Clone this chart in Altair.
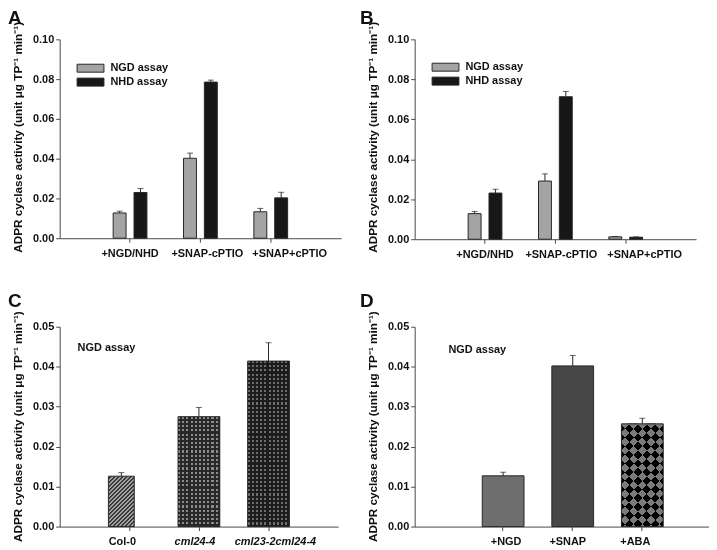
import math
import altair as alt
import pandas as pd

# ---------------- data ----------------
ab_categories = ["+NGD/NHD", "+SNAP-cPTIO", "+SNAP+cPTIO"]
assays = ["NGD assay", "NHD assay"]

a_ngd = [0.0127, 0.0402, 0.0133]
a_ngd_err = [0.0009, 0.0026, 0.0017]
a_nhd = [0.0230, 0.0785, 0.0203]
a_nhd_err = [0.0020, 0.0010, 0.0028]

b_ngd = [0.0128, 0.0291, 0.0012]
b_ngd_err = [0.0011, 0.0036, 0.0002]
b_nhd = [0.0231, 0.0713, 0.0010]
b_nhd_err = [0.0019, 0.0026, 0.0002]

c_categories = ["Col-0", "cml24-4", "cml23-2cml24-4"]
c_values = [0.0126, 0.0275, 0.0414]
c_err = [0.0009, 0.0023, 0.0046]

d_categories = ["+NGD", "+SNAP", "+ABA"]
d_values = [0.0127, 0.0402, 0.0257]
d_err = [0.0009, 0.0026, 0.0014]

y_ticks_ab = [0.0, 0.02, 0.04, 0.06, 0.08, 0.10]
y_ticks_cd = [0.0, 0.01, 0.02, 0.03, 0.04, 0.05]

YTITLE = "ADPR cyclase activity (unit \u03bcg TP\u207b\u00b9 min\u207b\u00b9)"

# ---------------- style ----------------
FONT = "Liberation Sans"
AX = "#4a4a4a"
TXT = "#111111"
BAR_STROKE = "#262626"
NGD_COL = "#a4a4a4"
NHD_COL = "#171717"
CLEAR = "rgba(0,0,0,0)"


def y_axis(vals, title_y):
    return alt.Axis(values=vals, format=".2f", tickSize=4, labelPadding=2, grid=False,
                    domainColor=AX, tickColor=AX, labelFont=FONT, labelFontSize=11,
                    labelFontWeight="bold", labelColor=TXT, title=YTITLE, titleFont=FONT,
                    titleFontSize=11.8, titleFontWeight="bold", titleColor=TXT, titleX=-36,
                    titleY=title_y, titleBaseline="bottom")


def x_axis(offsets, styles=None):
    conds = [{"test": f"datum.value === '{k}'", "value": v} for k, v in offsets.items()]
    kw = dict(labelAngle=0, tickSize=4, labelPadding=5, grid=False, domainColor=AX,
              tickColor=AX, labelFont=FONT, labelFontSize=11, labelFontWeight="bold",
              labelColor=TXT, title=None, labelOffset={"condition": conds, "value": 0})
    if styles:
        kw["labelFontStyle"] = {"condition": [{"test": f"datum.value === '{k}'", "value": v}
                                              for k, v in styles.items()], "value": "normal"}
    return alt.Axis(**kw)


def letter(ch, dx, dy):
    return alt.Chart(pd.DataFrame({"t": [ch]})).mark_text(
        align="left", baseline="top", font=FONT, fontSize=19, fontWeight="bold", color=TXT
    ).encode(text="t:N", x=alt.value(dx), y=alt.value(dy))


def note(txt, dx, dy):
    return alt.Chart(pd.DataFrame({"t": [txt]})).mark_text(
        align="left", baseline="middle", font=FONT, fontSize=11, fontWeight="bold", color=TXT
    ).encode(text="t:N", x=alt.value(dx), y=alt.value(dy))


# gradient based hatch patterns
def grad(c1, c2, frac, n, x1, y1, x2, y2):
    n = max(1, int(round(n)))
    stops = []
    for k in range(n):
        a, b, e = k / n, (k + frac) / n, (k + 1) / n
        stops += [(a, c1), (b, c1), (b, c2), (e, c2)]
    return alt.LinearGradient(gradient="linear",
                              stops=[alt.GradientStop(offset=min(1.0, round(o, 5)), color=c) for o, c in stops],
                              x1=x1, y1=y1, x2=x2, y2=y2)


def hstripes(c1, c2, frac, h, p):
    return grad(c1, c2, frac, h / p, 0, 0, 0, 1)


def vstripes(c1, c2, frac, w, p):
    return grad(c1, c2, frac, w / p, 0, 0, 1, 0)


def dstripes_up(c1, c2, frac, w, h, p):
    s = h / w
    n = (w * w + h * h) / (w * p * math.sqrt(2))
    return grad(c1, c2, frac, n, 0, 0, 1, s)


def dstripes_down(c1, c2, frac, w, h, p):
    s = h / w
    n = (w * w + h * h) / (w * p * math.sqrt(2))
    return grad(c1, c2, frac, n, 0, s, 1, 0)


# ---------------- grouped panels (A, B) ----------------
def panel_ab(ch, ngd, ngd_e, nhd, nhd_e, width, height, offs, ldx, ldy):
    df = pd.DataFrame({
        "cat": ab_categories * 2,
        "assay": [assays[0]] * 3 + [assays[1]] * 3,
        "v": ngd + nhd,
        "e": ngd_e + nhd_e,
    })
    df["top"] = df["v"] + df["e"]
    x = alt.X("cat:N", sort=ab_categories, title=None,
              scale=alt.Scale(paddingInner=0.52, paddingOuter=0.76), axis=x_axis(offs))
    xo = alt.XOffset("assay:N", sort=assays, scale=alt.Scale(paddingInner=0.38, paddingOuter=0))
    ysc = alt.Scale(domain=[0, 0.1], nice=False)
    yax = y_axis(y_ticks_ab, 98)
    base = alt.Chart(df)
    bars = base.mark_bar(stroke=BAR_STROKE, strokeWidth=1).encode(
        x=x, xOffset=xo,
        y=alt.Y("v:Q", scale=ysc, axis=yax, title=YTITLE),
        fill=alt.Fill("assay:N", scale=alt.Scale(domain=assays, range=[NGD_COL, NHD_COL]),
                      legend=alt.Legend(orient="none", legendX=ldx, legendY=ldy, title=None,
                                        symbolType="M-2.7,-0.8H2.7V0.8H-2.7Z", symbolSize=100,
                                        symbolStrokeColor=BAR_STROKE, symbolStrokeWidth=1,
                                        labelFont=FONT, labelFontSize=11, labelFontWeight="bold",
                                        labelColor=TXT, labelOffset=14.5, rowPadding=1,
                                        padding=0)))
    rules = base.mark_rule(color=BAR_STROKE, strokeWidth=1).encode(
        x=x, xOffset=xo, y=alt.Y("v:Q", scale=ysc, axis=yax, title=YTITLE), y2="top:Q")
    caps = base.mark_tick(orient="horizontal", size=6, thickness=1, color=BAR_STROKE).encode(
        x=x, xOffset=xo, y=alt.Y("top:Q", scale=ysc, axis=yax, title=YTITLE))
    return alt.layer(bars, rules, caps, letter(ch, -52 if ch == "A" else -55, -30)).properties(
        width=width, height=height)


# ---------------- single panels (C, D) ----------------
def panel_single(ch, cats, vals, errs, width, height, pad_outer, align, styles, offs, fstyles,
                 note_xy, letter_xy):
    df = pd.DataFrame({"cat": cats, "v": vals, "e": errs})
    df["top"] = df["v"] + df["e"]
    x = alt.X("cat:N", sort=cats, title=None,
              scale=alt.Scale(paddingInner=0.4, paddingOuter=pad_outer, align=align),
              axis=x_axis(offs, fstyles))
    ysc = alt.Scale(domain=[0, 0.05], nice=False)
    yax = y_axis(y_ticks_cd, 100)
    layers = []
    for cat, st in zip(cats, styles):
        b = alt.Chart(df).transform_filter(alt.datum.cat == cat)
        for f in st["fills"]:
            extra = {}
            if isinstance(f, tuple):
                f, extra = f[0], {"blend": f[1]}
            layers.append(b.mark_bar(fill=f, strokeWidth=0, width=st["w"], xOffset=st["dx"],
                                     **extra).encode(
                x=x, y=alt.Y("v:Q", scale=ysc, axis=yax, title=YTITLE)))
        layers.append(b.mark_bar(fillOpacity=0, stroke=BAR_STROKE, strokeWidth=1, width=st["w"],
                                 xOffset=st["dx"]).encode(
            x=x, y=alt.Y("v:Q", scale=ysc, axis=yax, title=YTITLE)))
        layers.append(b.mark_rule(color=BAR_STROKE, strokeWidth=1, xOffset=st["dx"]).encode(
            x=x, y=alt.Y("v:Q", scale=ysc, axis=yax, title=YTITLE), y2="top:Q"))
        layers.append(b.mark_tick(orient="horizontal", size=6, thickness=1, color=BAR_STROKE,
                                  xOffset=st["dx"]).encode(
            x=x, y=alt.Y("top:Q", scale=ysc, axis=yax, title=YTITLE)))
    layers.append(note("NGD assay", *note_xy))
    layers.append(letter(ch, *letter_xy))
    return alt.layer(*layers).properties(width=width, height=height)


HC = 201
def px(v):
    return v / 0.05 * HC

h_aba = px(d_values[2])
c_styles = [
    {"w": 26, "dx": -8, "fills": [dstripes_up("#a2a2a2", "#3a3a3a", 0.5, 26, px(c_values[0]), 2.8)]},
    {"w": 42, "dx": 0, "fills": [hstripes("#8c8c8c", "#282828", 0.5, px(c_values[1]), 4.2),
                                 vstripes(CLEAR, "#282828", 0.5, 42, 4.2)]},
    {"w": 42, "dx": 0, "fills": [hstripes("#6e6e6e", "#1c1c1c", 0.5, px(c_values[2]), 4.2),
                                 vstripes(CLEAR, "#1c1c1c", 0.5, 42, 4.2)]},
]

d_styles = [
    {"w": 42, "dx": 0, "fills": ["#6e6e6e"]},
    {"w": 42, "dx": 0, "fills": ["#474747"]},
    {"w": 42, "dx": 0, "fills": [dstripes_up("#ffffff", "#000000", 0.5, 42, h_aba, 12.2),
                                 (dstripes_down("#ffffff", "#000000", 0.5, 42, h_aba, 12.2), "difference"),
                                 ("#7a7a7a", "multiply")]},
]

pa = panel_ab("A", a_ngd, a_ngd_err, a_nhd, a_nhd_err, 283, 200,
              {"+SNAP-cPTIO": 7, "+SNAP+cPTIO": 19}, 25.5, 23.5)
pb = panel_ab("B", b_ngd, b_ngd_err, b_nhd, b_nhd_err, 283, 201,
              {"+SNAP-cPTIO": 6, "+SNAP+cPTIO": 19}, 25.5, 22.5)
pc = panel_single("C", c_categories, c_values, c_err, 280, HC, 0.7, 0.5, c_styles,
                  {"Col-0": -7, "cml24-4": -4, "cml23-2cml24-4": 7},
                  {"cml24-4": "italic", "cml23-2cml24-4": "italic"}, (18, 21), (-52, -35))
pd_ = panel_single("D", d_categories, d_values, d_err, 296, HC, 0.8143, 0.596, d_styles,
                   {"+NGD": 3, "+SNAP": -5, "+ABA": -7}, None, (34, 23), (-55, -35))

chart = alt.concat(pa, pb, pc, pd_, columns=2, spacing={"row": 88, "column": 74}).resolve_scale(
    fill="independent").resolve_legend(fill="independent").properties(
    padding=0, bounds="flush", background="white"
).configure_view(stroke=None)

chart.save("out.html", embed_options={"renderer": "svg", "actions": False})
